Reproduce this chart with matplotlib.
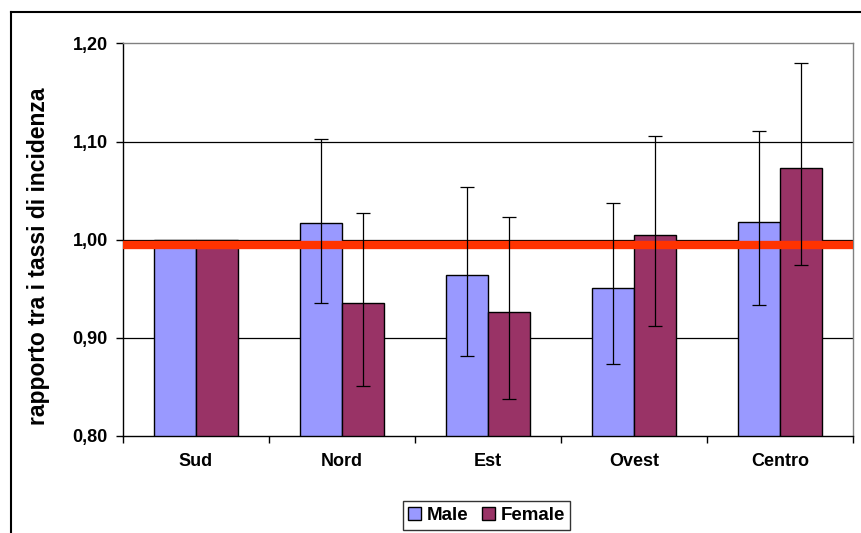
import matplotlib
matplotlib.use("Agg")
import matplotlib.pyplot as plt
import numpy as np
from matplotlib.lines import Line2D

categories = ["Sud", "Nord", "Est", "Ovest", "Centro"]
male = [1.000, 1.017, 0.964, 0.951, 1.018]
male_low = [1.000, 0.936, 0.882, 0.873, 0.933]
male_high = [1.000, 1.103, 1.054, 1.037, 1.111]
female = [1.000, 0.935, 0.926, 1.005, 1.073]
female_low = [1.000, 0.851, 0.838, 0.912, 0.974]
female_high = [1.000, 1.027, 1.023, 1.106, 1.180]
ref_value = 0.995
yticks = [0.80, 0.90, 1.00, 1.10, 1.20]
ytick_labels = ["0,80", "0,90", "1,00", "1,10", "1,20"]

plt.rcParams['font.family'] = ['Liberation Sans', 'DejaVu Sans']
plt.rcParams['font.weight'] = 'bold'

fig = plt.figure(figsize=(8.61, 5.33), dpi=100)
ax = fig.add_axes([0.1429, 0.182, 0.8475, 0.7366])

x = np.arange(len(categories))
w = 0.288
male_c = '#9999FF'
female_c = '#993366'

ax.bar(x - w/2, male, w, bottom=0, color=male_c, edgecolor='black', linewidth=1.0, zorder=2, label='Male')
ax.bar(x + w/2, female, w, bottom=0, color=female_c, edgecolor='black', linewidth=1.0, zorder=2, label='Female')

m = np.array(male); f = np.array(female)
merr = np.array([m - np.array(male_low), np.array(male_high) - m])
ferr = np.array([f - np.array(female_low), np.array(female_high) - f])
idx = x[1:]
ax.errorbar(idx - w/2, m[1:], yerr=merr[:, 1:], fmt='none', ecolor='black', elinewidth=0.9, capsize=5, capthick=0.9, zorder=5)
ax.errorbar(idx + w/2, f[1:], yerr=ferr[:, 1:], fmt='none', ecolor='black', elinewidth=0.9, capsize=5, capthick=0.9, zorder=5)

ax.axhline(ref_value, xmin=0, xmax=0.995, color='#FF3300', linewidth=6, zorder=4)

ax.set_ylim(0.80, 1.20)
ax.set_xlim(-0.5, len(categories) - 0.5)
ax.set_yticks(yticks)
ax.set_yticklabels(ytick_labels, fontsize=13, fontweight='bold')
ax.set_xticks(x)
ax.set_xticklabels(categories, fontsize=13, fontweight='bold')
ax.set_xticks(np.arange(-0.5, len(categories)), minor=True)
ax.tick_params(axis='x', which='major', length=0, pad=12)
ax.tick_params(axis='x', which='minor', length=5, width=1, direction='out')
ax.tick_params(axis='y', length=5, width=1, direction='out', pad=6)

for yv in [0.90, 1.00, 1.10]:
    ax.axhline(yv, color='black', linewidth=0.9, zorder=1)

ax.spines['left'].set_color('black')
ax.spines['bottom'].set_color('black')
ax.spines['top'].set_color('#808080')
ax.spines['right'].set_color('#808080')
for s in ax.spines.values():
    s.set_linewidth(1.0)

ax.set_ylabel("rapporto tra i tassi di incidenza", fontsize=16.5, fontweight='bold')
ax.yaxis.set_label_coords(-0.100, 0.458)

leg = fig.legend(loc='center', bbox_to_anchor=(0.565, 0.033), ncol=2,
                 frameon=True, fancybox=False, edgecolor='black', handlelength=0.7,
                 handleheight=0.7, handletextpad=0.3, columnspacing=0.7, borderpad=0.3,
                 prop={'weight': 'bold', 'size': 13.5})
leg.get_frame().set_linewidth(1.0)

fig.add_artist(Line2D([0.0124, 1.0], [0.978, 0.978], transform=fig.transFigure, color='black', linewidth=1.5))
fig.add_artist(Line2D([0.0124, 0.0124], [0.0, 0.978], transform=fig.transFigure, color='black', linewidth=1.5))

fig.savefig("out.png", dpi=100)
